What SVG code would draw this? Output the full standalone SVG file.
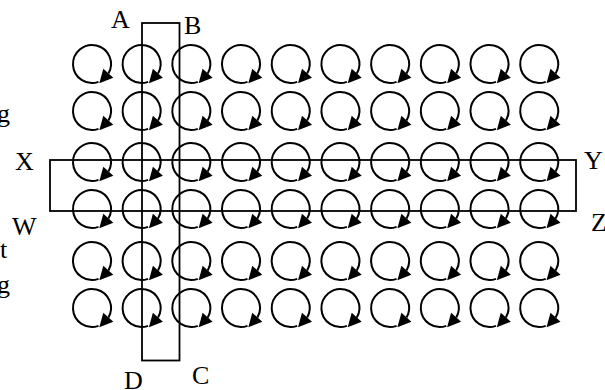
<svg xmlns="http://www.w3.org/2000/svg" xmlns:xlink="http://www.w3.org/1999/xlink" width="605" height="390" viewBox="0 0 605 390">
<style>
.t{font-family:"Liberation Serif","Times New Roman",serif;font-size:26px;fill:#000}
.arc{fill:none;stroke:#000;stroke-width:2}
.box{fill:none;stroke:#000;stroke-width:1.8}
</style>
<defs>
<g id="spin">
<path class="arc" d="M6.5,17.85 A19,19 0 1 1 16.45,9.5"/>
<polygon points="11.3,4.8 21.3,13.8 7.3,19.2" fill="#000"/>
</g>
</defs>
<rect width="605" height="390" fill="#fff"/>
<g id="margin-text">
<text class="t" x="-3" y="122">g</text>
<text class="t" x="0" y="258">t</text>
<text class="t" x="-3" y="293">g</text>
</g>
<g id="cells">
<use xlink:href="#spin" x="92" y="64"/><use xlink:href="#spin" x="141.6" y="64"/><use xlink:href="#spin" x="191.3" y="64"/><use xlink:href="#spin" x="241" y="64"/><use xlink:href="#spin" x="290.7" y="64"/><use xlink:href="#spin" x="340.4" y="64"/><use xlink:href="#spin" x="390.1" y="64"/><use xlink:href="#spin" x="439.8" y="64"/><use xlink:href="#spin" x="489.5" y="64"/><use xlink:href="#spin" x="539.2" y="64"/>
<use xlink:href="#spin" x="92" y="111"/><use xlink:href="#spin" x="141.6" y="111"/><use xlink:href="#spin" x="191.3" y="111"/><use xlink:href="#spin" x="241" y="111"/><use xlink:href="#spin" x="290.7" y="111"/><use xlink:href="#spin" x="340.4" y="111"/><use xlink:href="#spin" x="390.1" y="111"/><use xlink:href="#spin" x="439.8" y="111"/><use xlink:href="#spin" x="489.5" y="111"/><use xlink:href="#spin" x="539.2" y="111"/>
<use xlink:href="#spin" x="92" y="162"/><use xlink:href="#spin" x="141.6" y="162"/><use xlink:href="#spin" x="191.3" y="162"/><use xlink:href="#spin" x="241" y="162"/><use xlink:href="#spin" x="290.7" y="162"/><use xlink:href="#spin" x="340.4" y="162"/><use xlink:href="#spin" x="390.1" y="162"/><use xlink:href="#spin" x="439.8" y="162"/><use xlink:href="#spin" x="489.5" y="162"/><use xlink:href="#spin" x="539.2" y="162"/>
<use xlink:href="#spin" x="92" y="209"/><use xlink:href="#spin" x="141.6" y="209"/><use xlink:href="#spin" x="191.3" y="209"/><use xlink:href="#spin" x="241" y="209"/><use xlink:href="#spin" x="290.7" y="209"/><use xlink:href="#spin" x="340.4" y="209"/><use xlink:href="#spin" x="390.1" y="209"/><use xlink:href="#spin" x="439.8" y="209"/><use xlink:href="#spin" x="489.5" y="209"/><use xlink:href="#spin" x="539.2" y="209"/>
<use xlink:href="#spin" x="92" y="261"/><use xlink:href="#spin" x="141.6" y="261"/><use xlink:href="#spin" x="191.3" y="261"/><use xlink:href="#spin" x="241" y="261"/><use xlink:href="#spin" x="290.7" y="261"/><use xlink:href="#spin" x="340.4" y="261"/><use xlink:href="#spin" x="390.1" y="261"/><use xlink:href="#spin" x="439.8" y="261"/><use xlink:href="#spin" x="489.5" y="261"/><use xlink:href="#spin" x="539.2" y="261"/>
<use xlink:href="#spin" x="92" y="308"/><use xlink:href="#spin" x="141.6" y="308"/><use xlink:href="#spin" x="191.3" y="308"/><use xlink:href="#spin" x="241" y="308"/><use xlink:href="#spin" x="290.7" y="308"/><use xlink:href="#spin" x="340.4" y="308"/><use xlink:href="#spin" x="390.1" y="308"/><use xlink:href="#spin" x="439.8" y="308"/><use xlink:href="#spin" x="489.5" y="308"/><use xlink:href="#spin" x="539.2" y="308"/>
</g>
<g id="rect-ABCD">
<rect class="box" x="142" y="23" width="37.5" height="337.5"/>
<text class="t" x="111" y="28">A</text>
<text class="t" x="184" y="34">B</text>
<text class="t" x="192" y="384">C</text>
<text class="t" x="124" y="389">D</text>
</g>
<g id="rect-WXYZ">
<rect class="box" x="50" y="160" width="526" height="51"/>
<text class="t" x="15" y="170">X</text>
<text class="t" x="584" y="169">Y</text>
<text class="t" x="591" y="231">Z</text>
<text class="t" x="12" y="235">W</text>
</g>
<g id="connectors"/>
</svg>
